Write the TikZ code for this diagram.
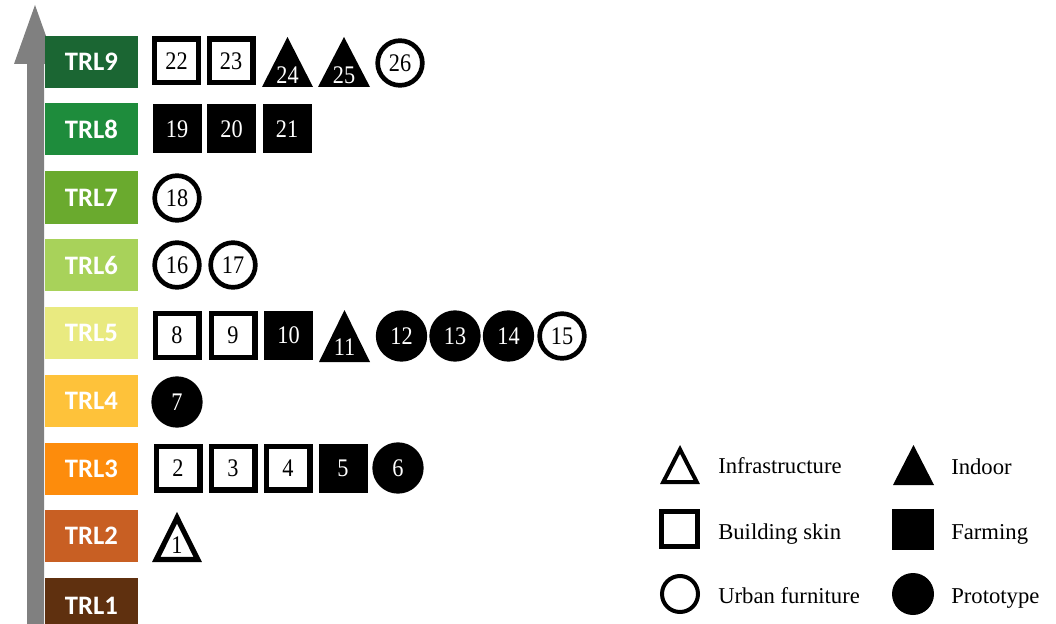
\documentclass[tikz,border=0pt]{standalone}
\usepackage{fontspec}
\setmainfont{Liberation Serif}
\newfontfamily\trlfont{Carlito}
\definecolor{trlix}{RGB}{27,102,51}
\definecolor{trlviii}{RGB}{30,140,60}
\definecolor{trlvii}{RGB}{106,170,46}
\definecolor{trlvi}{RGB}{168,210,90}
\definecolor{trlv}{RGB}{233,234,128}
\definecolor{trliv}{RGB}{254,194,58}
\definecolor{trliii}{RGB}{253,140,12}
\definecolor{trlii}{RGB}{200,95,35}
\definecolor{trli}{RGB}{95,48,15}
\definecolor{axisgray}{RGB}{128,128,128}
\newcommand\nm[1]{\scalebox{0.88}[1]{#1}}
\newcommand\ftri[4]{\fill (#1,#2) -- ++({#3/2},#4) -- ++({-#3},0) -- cycle;}
\newcommand\otri[4]{\draw[line width=3.9pt,line join=miter] (#1,{#2+5.8}) -- ({#1+#3/2-4.3},{#2+#4-2.6}) -- ({#1-#3/2+4.3},{#2+#4-2.6}) -- cycle;}
\begin{document}
\begin{tikzpicture}[x=0.75pt,y=-0.75pt,
  trl/.style={fill=#1,minimum width=69.75pt,minimum height=39pt,inner sep=0pt,
    text=white,font=\trlfont\bfseries\fontsize{20}{22}\selectfont},
  num/.style={font=\fontsize{19}{21}\selectfont,inner sep=0pt},
  osq/.style={num,draw,line width=4pt,minimum size=32.75pt},
  fsq/.style={num,fill=black,text=white,minimum size=36.75pt},
  ocirc/.style={num,circle,draw,line width=3.5pt,minimum size=33.5pt},
  fcirc/.style={num,circle,fill=black,text=white,minimum size=38.5pt},
  ftxt/.style={num,text=white},
  otxt/.style={num},
  leg/.style={font=\fontsize{17}{19}\selectfont,anchor=base west,inner sep=0pt}]
\useasboundingbox (0,0) rectangle (1056,624);
% axis arrow
\fill[axisgray] (27,640) -- (27,64) -- (14,64) -- (35,5) -- (56,64) -- (44,64) -- (44,640) -- cycle;
% TRL boxes
\node[trl=trlix]   (t9) at (91.5,62)   {TRL9};
\node[trl=trlviii] (t8) at (91.5,129)  {TRL8};
\node[trl=trlvii]  (t7) at (91.5,197.5){TRL7};
\node[trl=trlvi]   (t6) at (91.5,265)  {TRL6};
\node[trl=trlv]    (t5) at (91.5,333)  {TRL5};
\node[trl=trliv]   (t4) at (91.5,401)  {TRL4};
\node[trl=trliii]  (t3) at (91.5,469)  {TRL3};
\node[trl=trlii]   (t2) at (91.5,536)  {TRL2};
\node[trl=trli,anchor=north] (t1) at (91.5,578) {};
\node[text=white,font=\trlfont\bfseries\fontsize{20}{22}\selectfont] (t1l) at (91.5,606) {TRL1};
% row 9
\node[osq] (n22) at (176.5,61) {\nm{22}};
\node[osq] (n23) at (231,61) {\nm{23}};
\ftri{287.5}{37}{51}{50}
\node[ftxt] (n24) at (287.5,75) {\nm{24}};
\ftri{344}{37}{52}{50}
\node[ftxt] (n25) at (344,75) {\nm{25}};
\node[ocirc] (n26) at (400,63) {\nm{26}};
% row 8
\node[fsq] (n19) at (177,129) {\nm{19}};
\node[fsq] (n20) at (231.5,129) {\nm{20}};
\node[fsq] (n21) at (287,129) {\nm{21}};
% row 7
\node[ocirc] (n18) at (177,198) {\nm{18}};
% row 6
\node[ocirc] (n16) at (177,265) {\nm{16}};
\node[ocirc] (n17) at (233,265) {\nm{17}};
% row 5
\node[osq] (n8) at (177,335.5) {\nm{8}};
\node[osq] (n9) at (233,335.5) {\nm{9}};
\node[fsq] (n10) at (288.5,335.5) {\nm{10}};
\ftri{344.5}{310}{51}{52}
\node[ftxt] (n11) at (344.5,347) {\nm{11}};
\node[fcirc] (n12) at (401.5,336) {\nm{12}};
\node[fcirc] (n13) at (455,336) {\nm{13}};
\node[fcirc] (n14) at (508.5,336) {\nm{14}};
\node[ocirc] (n15) at (562,336) {\nm{15}};
% row 4
\node[fcirc] (n7) at (177,402) {\nm{7}};
% row 3
\node[osq] (n2) at (178,468) {\nm{2}};
\node[osq] (n3) at (233,468) {\nm{3}};
\node[osq] (n4) at (288,468) {\nm{4}};
\node[fsq] (n5) at (343,468) {\nm{5}};
\node[fcirc] (n6) at (398,468) {\nm{6}};
% row 2
\otri{177}{512}{50}{50}
\node[otxt] (n1) at (177,545) {\nm{1}};
% legend
\draw[line width=3pt,line join=miter] (680,449.4) -- (696.7,482) -- (663.3,482) -- cycle;
\node[leg] (l1) at (718,473) {Infrastructure};
\fill (913.5,445) -- (934,485) -- (893,485) -- cycle;
\node[leg] (l2) at (951,474) {Indoor};
\draw[line width=3.75pt] (661.5,511.5) rectangle (697.5,546.5);
\node[leg] (l3) at (718,539) {Building skin};
\fill (892,509) rectangle (934,550);
\node[leg] (l4) at (951,539) {Farming};
\draw[line width=3pt] (680,594) circle (18);
\node[leg] (l5) at (718,603) {Urban furniture};
\fill (913,594) circle (21);
\node[leg] (l6) at (951,603) {Prototype};
\end{tikzpicture}
\end{document}
